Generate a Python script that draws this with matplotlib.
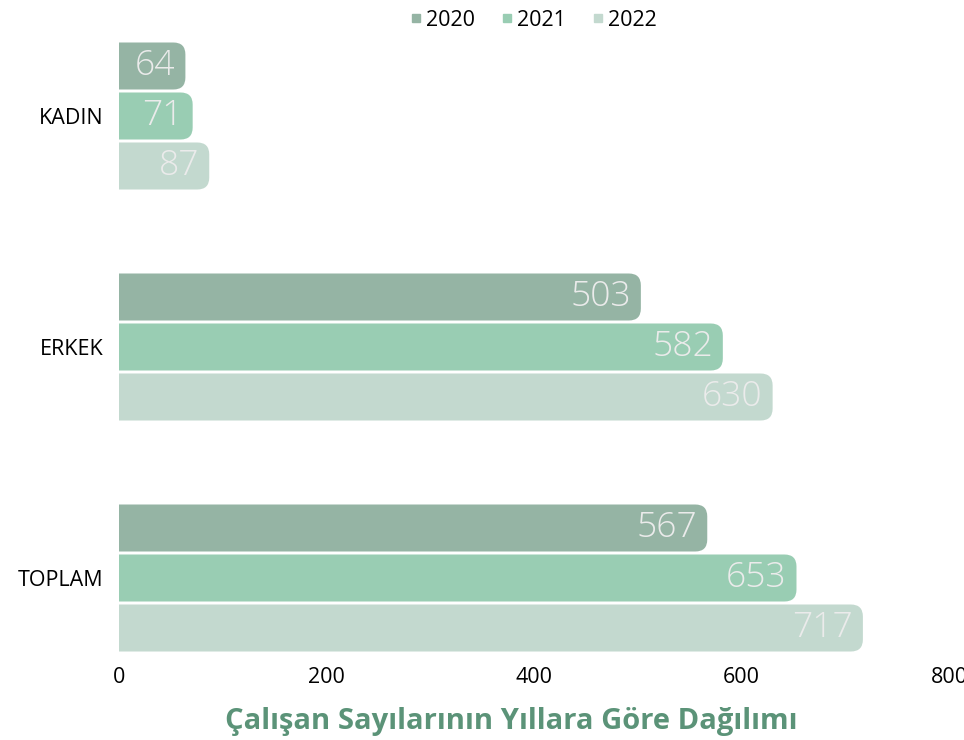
import matplotlib.pyplot as plt
from matplotlib.patches import FancyBboxPatch
from matplotlib.lines import Line2D

plt.rcParams['font.family'] = ['Open Sans', 'DejaVu Sans']

categories = ["KADIN", "ERKEK", "TOPLAM"]
years = ["2020", "2021", "2022"]
values_2020 = [64, 503, 567]
values_2021 = [71, 582, 653]
values_2022 = [87, 630, 717]
xticks = [0, 200, 400, 600, 800]

colors = ["#95b4a4", "#99cdb3", "#c3d9cf"]
label_color = "#ebebeb"
title_color = "#5b9378"

W, H = 964, 740
fig = plt.figure(figsize=(W / 100, H / 100), dpi=100)

# axes placed in pixels: x 0 -> 119px, 800 -> 949px
ax_left, ax_right = 119, 949
ax_top, ax_bot = 30, 660
ax = fig.add_axes([ax_left / W, 1 - ax_bot / H, (ax_right - ax_left) / W, (ax_bot - ax_top) / H])

band = 231.0  # px per category
xpx = (ax_right - ax_left) / 800.0
ax.set_xlim(0, 800)
ax.set_ylim((ax_bot - 116) / band, (ax_top - 116) / band)

bar_h = 47 / band
step = 50 / band
radius_px = 12
r_x = radius_px / xpx
aspect = (1 / band) / (1 / xpx)

series = [values_2020, values_2021, values_2022]
for j, vals in enumerate(series):
    for i, v in enumerate(vals):
        yc = i + (j - 1) * step
        y0 = yc - bar_h / 2
        # start left of 0 so the left rounded corners are clipped away
        ax.add_patch(FancyBboxPatch((-3 * r_x, y0), v + 3 * r_x, bar_h,
                                    boxstyle=f"round,pad=0,rounding_size={r_x}",
                                    mutation_aspect=aspect,
                                    fc=colors[j], ec="none"))
        ax.text(v - 10 / xpx, yc, str(v), ha="right", va="center",
                fontsize=25.5, color=label_color, fontweight="light")

ax.set_yticks(range(len(categories)))
ax.set_yticklabels(categories, fontsize=15.5)
ax.set_xticks(xticks)
ax.set_xticklabels([str(t) for t in xticks], fontsize=15.5)
ax.tick_params(length=0)
ax.tick_params(axis="y", pad=11)
ax.tick_params(axis="x", pad=5)
for s in ax.spines.values():
    s.set_visible(False)

handles = [Line2D([], [], marker="s", ls="none", color=c, markersize=6) for c in colors]
fig.legend(handles, years, loc="center", bbox_to_anchor=(531 / W, 1 - 20 / H),
           ncol=3, frameon=False, fontsize=15.5, handletextpad=0.0,
           columnspacing=0.95, handlelength=1.0)

fig.text(511 / W, 1 - 722 / H, "Çalışan Sayılarının Yıllara Göre Dağılımı",
         ha="center", va="center", fontsize=21, fontweight="bold", color=title_color)

fig.savefig("out.png", dpi=100)
